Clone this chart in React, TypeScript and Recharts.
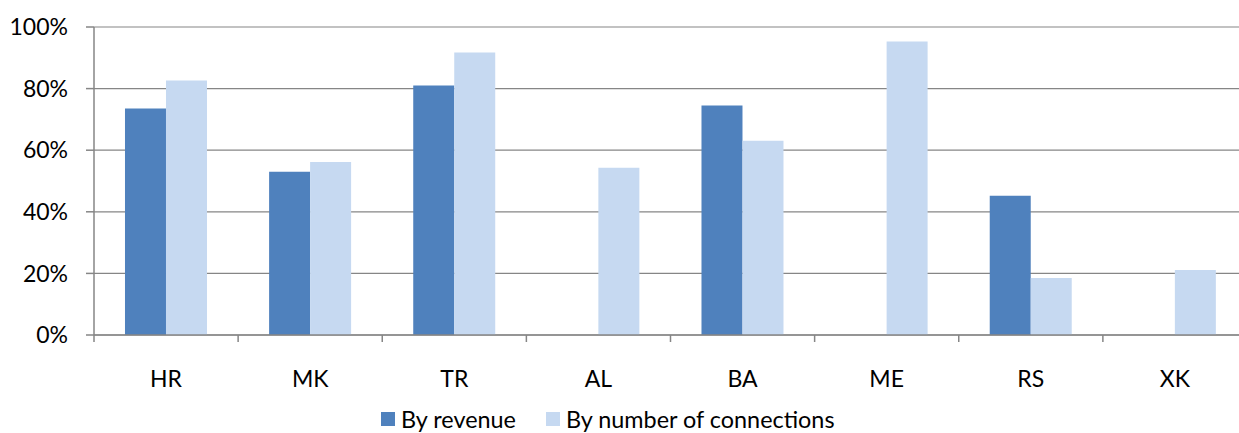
import React from "react";
import { BarChart, Bar, XAxis, YAxis, CartesianGrid } from "recharts";

const categories = ["HR", "MK", "TR", "AL", "BA", "ME", "RS", "XK"];
const byRevenue: (number | null)[] = [73.5, 53, 81, 0, 74.5, 0, 45.2, 0];
const byConnections: number[] = [82.6, 56.2, 91.7, 54.3, 63.1, 95.3, 18.5, 21.1];
const yTicks = [0, 20, 40, 60, 80, 100];
const seriesNames = ["By revenue", "By number of connections"];

const data = categories.map((c, i) => ({
  name: c,
  revenue: byRevenue[i],
  connections: byConnections[i],
}));

const CHART_W = 1250;
const CHART_H = 433;
const MARGIN = { top: 27, right: 3, bottom: 58, left: 0 };
const Y_W = 94;
const FONT = "Lato, 'Open Sans', sans-serif";
const FS = 23;
const AXIS_COLOR = "#868686";
const REV = "#4F81BD";
const CON = "#C6D9F1";

const band = (CHART_W - MARGIN.left - MARGIN.right - Y_W) / categories.length;

const XTick = (props: any) => {
  const { x, y, payload } = props;
  const left = x - band / 2;
  return (
    <g>
      <line x1={left} x2={left} y1={y} y2={y + 7} stroke={AXIS_COLOR} strokeWidth={1.5} />
      <text
        x={x}
        y={y + 43}
        textAnchor="middle"
        dominantBaseline="central"
        fill="#000"
        fontSize={FS}
        fontFamily={FONT}
      >
        {payload.value}
      </text>
    </g>
  );
};

export default function App() {
  return (
    <div
      style={{
        position: "absolute",
        left: 0,
        top: 0,
        width: 1239,
        height: 433,
        overflow: "hidden",
        background: "#fff",
      }}
    >
      <BarChart
        width={CHART_W}
        height={CHART_H}
        data={data}
        margin={MARGIN}
        barCategoryGap="21.5%"
        barGap={0}
      >
        <CartesianGrid vertical={false} stroke={AXIS_COLOR} strokeWidth={1.2} />
        <YAxis
          width={Y_W}
          domain={[0, 100]}
          ticks={yTicks}
          tickFormatter={(v: number) => `${v}%`}
          tick={{ fill: "#000", fontSize: FS, fontFamily: FONT }}
          tickSize={8}
          tickMargin={18}
          axisLine={{ stroke: AXIS_COLOR, strokeWidth: 1.5 }}
          tickLine={{ stroke: AXIS_COLOR, strokeWidth: 1.5 }}
          interval={0}
        />
        <XAxis
          dataKey="name"
          tick={<XTick />}
          tickLine={false}
          tickSize={0}
          tickMargin={0}
          axisLine={{ stroke: AXIS_COLOR, strokeWidth: 1.5 }}
          interval={0}
          height={40}
        />
        <Bar dataKey="revenue" name={seriesNames[0]} fill={REV} isAnimationActive={false} />
        <Bar dataKey="connections" name={seriesNames[1]} fill={CON} isAnimationActive={false} />
      </BarChart>
      <div
        style={{
          position: "absolute",
          left: 381,
          top: 406,
          height: 26,
          lineHeight: "26px",
          display: "flex",
          alignItems: "center",
          fontFamily: FONT,
          fontSize: 23.4,
          color: "#000",
          whiteSpace: "nowrap",
        }}
      >
        <span style={{ width: 14, height: 14, background: REV, display: "inline-block", marginRight: 6 }} />
        <span style={{ marginRight: 30 }}>{seriesNames[0]}</span>
        <span style={{ width: 14, height: 14, background: CON, display: "inline-block", marginRight: 6 }} />
        <span>{seriesNames[1]}</span>
      </div>
    </div>
  );
}
